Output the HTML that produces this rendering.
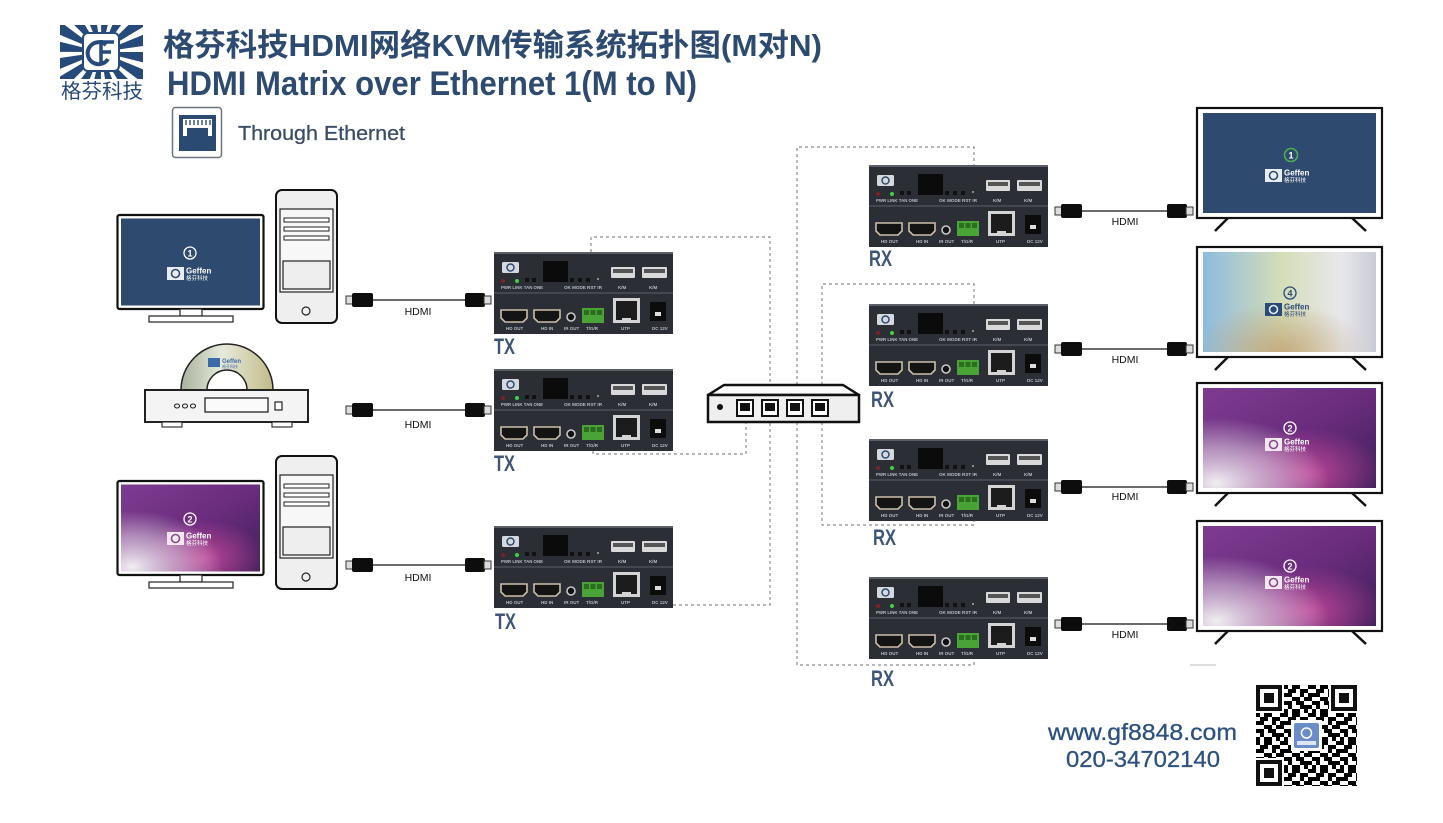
<!DOCTYPE html>
<html><head><meta charset="utf-8">
<style>
html,body{margin:0;padding:0;background:#fff;}
svg{display:block;}
text{font-family:"Liberation Sans","Noto Sans CJK SC",sans-serif;}
</style></head><body>
<svg width="1443" height="823" viewBox="0 0 1443 823" xmlns="http://www.w3.org/2000/svg">
<defs>
<linearGradient id="pur" x1="0" y1="0" x2="1" y2="1">
<stop offset="0" stop-color="#7e3c90"/><stop offset="0.5" stop-color="#6a2c7e"/><stop offset="1" stop-color="#3f1f58"/>
</linearGradient>
<radialGradient id="pw" cx="0.08" cy="0.95" r="0.65">
<stop offset="0" stop-color="#f2eef2" stop-opacity="1"/><stop offset="0.55" stop-color="#e6d6e6" stop-opacity="0.55"/><stop offset="1" stop-color="#e6d6e6" stop-opacity="0"/>
</radialGradient>
<radialGradient id="pm" cx="0.6" cy="0.85" r="0.45">
<stop offset="0" stop-color="#c8489c" stop-opacity="0.9"/><stop offset="1" stop-color="#c8489c" stop-opacity="0"/>
</radialGradient>
<linearGradient id="pas" x1="0" y1="0" x2="1" y2="0">
<stop offset="0" stop-color="#8dbbe0"/><stop offset="0.45" stop-color="#d4ddb8"/><stop offset="0.8" stop-color="#e8e8ec"/><stop offset="1" stop-color="#c9cbd4"/>
</linearGradient>
<radialGradient id="pt" cx="0.45" cy="1" r="0.5">
<stop offset="0" stop-color="#c0a070" stop-opacity="0.8"/><stop offset="1" stop-color="#c0a070" stop-opacity="0"/>
</radialGradient>
<linearGradient id="disc" x1="0" y1="0" x2="1" y2="0">
<stop offset="0" stop-color="#a7b39c"/><stop offset="0.45" stop-color="#e6eadb"/><stop offset="1" stop-color="#c2bb88"/>
</linearGradient>
<clipPath id="lc"><rect x="60" y="25" width="83" height="54"/></clipPath>
<pattern id="qr" patternUnits="userSpaceOnUse" x="1256" y="685" width="28" height="28">
<rect x="0" y="0" width="4" height="4"/><rect x="8" y="0" width="8" height="4"/><rect x="24" y="0" width="4" height="4"/>
<rect x="4" y="4" width="8" height="4"/><rect x="16" y="4" width="8" height="4"/>
<rect x="0" y="8" width="8" height="4"/><rect x="16" y="8" width="4" height="4"/><rect x="24" y="8" width="4" height="4"/>
<rect x="8" y="12" width="8" height="4"/><rect x="20" y="12" width="8" height="4"/>
<rect x="0" y="16" width="8" height="4"/><rect x="12" y="16" width="8" height="4"/>
<rect x="4" y="20" width="4" height="4"/><rect x="16" y="20" width="12" height="4"/>
<rect x="0" y="24" width="4" height="4"/><rect x="8" y="24" width="8" height="4"/><rect x="20" y="24" width="4" height="4"/>
</pattern>
</defs>

<rect width="1443" height="823" fill="#fff"/>

<!-- Logo emblem -->
<g clip-path="url(#lc)"><circle cx="101" cy="52" r="40" fill="none" stroke="#264a7a" stroke-width="80" stroke-dasharray="9.7 6"/></g>
<rect x="83" y="33" width="36" height="38" rx="5" fill="#fff" stroke="#264a7a" stroke-width="2"/>
<path d="M106 45 A11 11 0 1 0 108 59" stroke="#264a7a" stroke-width="4" fill="none"/>
<path d="M101 40 V64 M101 42 H114 M101 52 H111" stroke="#264a7a" stroke-width="3.5" fill="none"/>
<text x="61" y="98" font-size="20" fill="#264a7a" textLength="82" lengthAdjust="spacingAndGlyphs">格芬科技</text>

<!-- Titles -->
<text x="163" y="56" font-size="31" font-weight="bold" fill="#2d4a70" textLength="659" lengthAdjust="spacingAndGlyphs">格芬科技HDMI网络KVM传输系统拓扑图(M对N)</text>
<text x="167" y="95" font-size="34" font-weight="bold" fill="#2d4a70" textLength="530" lengthAdjust="spacingAndGlyphs">HDMI Matrix over Ethernet 1(M to N)</text>

<!-- Ethernet icon -->
<rect x="172.5" y="107.5" width="49" height="50" rx="3" fill="#fff" stroke="#6a7380" stroke-width="1.5"/>
<rect x="179" y="115" width="37" height="36" fill="#2b4a72"/>
<rect x="183" y="119" width="29" height="17" fill="#fff"/>
<path d="M186 120 V125 M190 120 V125 M194 120 V125 M198 120 V125 M202 120 V125 M206 120 V125 M210 120 V125" stroke="#2b4a72" stroke-width="1.4"/>
<rect x="187" y="128" width="21" height="12" fill="#2b4a72"/>
<text x="238" y="140" font-size="20" fill="#3a4d66" stroke="#3a4d66" stroke-width="0.3" textLength="167" lengthAdjust="spacingAndGlyphs">Through Ethernet</text>

<!-- Dashed network lines -->
<g fill="none" stroke="#8c8c8c" stroke-width="1.2" stroke-dasharray="3 3">
<path d="M591 252 V237 H770 V385"/>
<path d="M593 451 V454 H746 V422"/>
<path d="M673 605 H770 V422"/>
<path d="M797 385 V147 H974 V165"/>
<path d="M822 385 V284 H974 V304"/>
<path d="M822 422 V525 H974 V520"/>
<path d="M797 422 V665 H974 V658"/>
</g>

<!-- Left monitor 1 -->
<rect x="117.5" y="215" width="146" height="94" rx="2" fill="#fff" stroke="#111" stroke-width="2.2"/>
<rect x="121" y="218.5" width="139" height="87" fill="#2e4a6e"/>
<rect x="180" y="309" width="22" height="7" fill="#fff" stroke="#222" stroke-width="1.2"/>
<rect x="149" y="316" width="84" height="6" fill="#fff" stroke="#222" stroke-width="1.2"/>
<circle cx="190" cy="253" r="6" fill="none" stroke="#fff" stroke-width="1.3"/>
<text x="190" y="256.5" font-size="9" font-weight="bold" fill="#fff" text-anchor="middle">1</text>
<rect x="167" y="267" width="17" height="13" fill="#e8ecf2"/><circle cx="175.5" cy="273.5" r="4" fill="none" stroke="#2e4a6e" stroke-width="1.6"/>
<text x="186" y="273.5" font-size="8" font-weight="bold" fill="#fff">Geffen</text>
<text x="186" y="280" font-size="5.5" fill="#fff">格芬科技</text>

<!-- PC 1 -->
<rect x="276" y="190" width="61" height="133" rx="6" fill="#efefef" stroke="#111" stroke-width="2"/>
<rect x="280" y="209" width="53" height="83" fill="#f7f7f7" stroke="#222" stroke-width="1.2"/>
<rect x="284" y="218" width="45" height="4" fill="#fff" stroke="#222" stroke-width="1"/>
<rect x="284" y="227" width="45" height="4" fill="#fff" stroke="#222" stroke-width="1"/>
<rect x="284" y="236" width="45" height="4" fill="#fff" stroke="#222" stroke-width="1"/>
<rect x="283" y="261" width="47" height="28" fill="#eee" stroke="#222" stroke-width="1.2"/>
<circle cx="306" cy="311" r="4" fill="none" stroke="#222" stroke-width="1.2"/>

<!-- DVD player -->
<path d="M181 390 A46 46 0 0 1 273 390 Z" fill="url(#disc)" stroke="#222" stroke-width="1.5"/>
<path d="M207 390 A20 20 0 0 1 247 390 Z" fill="#fff" stroke="#222" stroke-width="1.5"/>
<rect x="208" y="358" width="12" height="9" fill="#3a6aa8"/>
<text x="222" y="363" font-size="6" font-weight="bold" fill="#3a6aa8">Geffen</text>
<text x="222" y="368" font-size="4" fill="#3a6aa8">格芬科技</text>
<rect x="145" y="390" width="163" height="32" fill="#f4f4f4" stroke="#222" stroke-width="2"/>
<rect x="205" y="398" width="63" height="14" fill="#fafafa" stroke="#222" stroke-width="1.3"/>
<rect x="275" y="402" width="7" height="8" fill="#fff" stroke="#222" stroke-width="1.2"/>
<ellipse cx="177" cy="406" rx="2.5" ry="2" fill="none" stroke="#222" stroke-width="1.1"/>
<ellipse cx="185" cy="406" rx="2.5" ry="2" fill="none" stroke="#222" stroke-width="1.1"/>
<ellipse cx="193" cy="406" rx="2.5" ry="2" fill="none" stroke="#222" stroke-width="1.1"/>
<rect x="162" y="422" width="20" height="5" fill="#fff" stroke="#222" stroke-width="1.1"/>
<rect x="272" y="422" width="20" height="5" fill="#fff" stroke="#222" stroke-width="1.1"/>

<!-- Left monitor 2 -->
<rect x="117.5" y="481" width="146" height="94" rx="2" fill="#fff" stroke="#111" stroke-width="2.2"/>
<rect x="121" y="484.5" width="139" height="87" fill="url(#pur)"/>
<rect x="121" y="484.5" width="139" height="87" fill="url(#pm)"/>
<rect x="121" y="484.5" width="139" height="87" fill="url(#pw)"/>
<rect x="180" y="575" width="22" height="7" fill="#fff" stroke="#222" stroke-width="1.2"/>
<rect x="149" y="582" width="84" height="6" fill="#fff" stroke="#222" stroke-width="1.2"/>
<circle cx="190" cy="519" r="6" fill="none" stroke="#fff" stroke-width="1.3"/>
<text x="190" y="522.5" font-size="9" font-weight="bold" fill="#fff" text-anchor="middle">2</text>
<rect x="167" y="532" width="17" height="13" fill="#f3e8f0"/><circle cx="175.5" cy="538.5" r="4" fill="none" stroke="#8a4a8a" stroke-width="1.6"/>
<text x="186" y="538.5" font-size="8" font-weight="bold" fill="#fff">Geffen</text>
<text x="186" y="545" font-size="5.5" fill="#fff">格芬科技</text>

<!-- PC 2 -->
<rect x="276" y="456" width="61" height="133" rx="6" fill="#efefef" stroke="#111" stroke-width="2"/>
<rect x="280" y="475" width="53" height="83" fill="#f7f7f7" stroke="#222" stroke-width="1.2"/>
<rect x="284" y="484" width="45" height="4" fill="#fff" stroke="#222" stroke-width="1"/>
<rect x="284" y="493" width="45" height="4" fill="#fff" stroke="#222" stroke-width="1"/>
<rect x="284" y="502" width="45" height="4" fill="#fff" stroke="#222" stroke-width="1"/>
<rect x="283" y="527" width="47" height="28" fill="#eee" stroke="#222" stroke-width="1.2"/>
<circle cx="306" cy="577" r="4" fill="none" stroke="#222" stroke-width="1.2"/>

<!-- Left HDMI cables -->
<g>
<rect x="346" y="296" width="7" height="8" fill="#ddd" stroke="#333" stroke-width="1"/>
<rect x="352" y="293" width="21" height="14" rx="2" fill="#0d0d0d"/>
<line x1="373" y1="300" x2="465" y2="300" stroke="#111" stroke-width="1.3"/>
<rect x="465" y="293" width="20" height="14" rx="2" fill="#0d0d0d"/>
<rect x="484" y="296" width="7" height="8" fill="#ddd" stroke="#333" stroke-width="1"/>
<text x="418" y="315" font-size="10.5" fill="#111" text-anchor="middle">HDMI</text>

<rect x="346" y="406" width="7" height="8" fill="#ddd" stroke="#333" stroke-width="1"/>
<rect x="352" y="403" width="21" height="14" rx="2" fill="#0d0d0d"/>
<line x1="373" y1="410" x2="465" y2="410" stroke="#111" stroke-width="1.3"/>
<rect x="465" y="403" width="20" height="14" rx="2" fill="#0d0d0d"/>
<rect x="484" y="406" width="7" height="8" fill="#ddd" stroke="#333" stroke-width="1"/>
<text x="418" y="428" font-size="10.5" fill="#111" text-anchor="middle">HDMI</text>

<rect x="346" y="561" width="7" height="8" fill="#ddd" stroke="#333" stroke-width="1"/>
<rect x="352" y="558" width="21" height="14" rx="2" fill="#0d0d0d"/>
<line x1="373" y1="565" x2="465" y2="565" stroke="#111" stroke-width="1.3"/>
<rect x="465" y="558" width="20" height="14" rx="2" fill="#0d0d0d"/>
<rect x="484" y="561" width="7" height="8" fill="#ddd" stroke="#333" stroke-width="1"/>
<text x="418" y="581" font-size="10.5" fill="#111" text-anchor="middle">HDMI</text>
</g>

<!-- Right HDMI cables -->
<g>
<rect x="1055" y="207" width="7" height="8" fill="#ddd" stroke="#333" stroke-width="1"/>
<rect x="1061" y="204" width="21" height="14" rx="2" fill="#0d0d0d"/>
<line x1="1082" y1="211" x2="1167" y2="211" stroke="#111" stroke-width="1.3"/>
<rect x="1167" y="204" width="20" height="14" rx="2" fill="#0d0d0d"/>
<rect x="1186" y="207" width="7" height="8" fill="#ddd" stroke="#333" stroke-width="1"/>
<text x="1125" y="225" font-size="10.5" fill="#111" text-anchor="middle">HDMI</text>

<rect x="1055" y="345" width="7" height="8" fill="#ddd" stroke="#333" stroke-width="1"/>
<rect x="1061" y="342" width="21" height="14" rx="2" fill="#0d0d0d"/>
<line x1="1082" y1="349" x2="1167" y2="349" stroke="#111" stroke-width="1.3"/>
<rect x="1167" y="342" width="20" height="14" rx="2" fill="#0d0d0d"/>
<rect x="1186" y="345" width="7" height="8" fill="#ddd" stroke="#333" stroke-width="1"/>
<text x="1125" y="363" font-size="10.5" fill="#111" text-anchor="middle">HDMI</text>

<rect x="1055" y="483" width="7" height="8" fill="#ddd" stroke="#333" stroke-width="1"/>
<rect x="1061" y="480" width="21" height="14" rx="2" fill="#0d0d0d"/>
<line x1="1082" y1="487" x2="1167" y2="487" stroke="#111" stroke-width="1.3"/>
<rect x="1167" y="480" width="20" height="14" rx="2" fill="#0d0d0d"/>
<rect x="1186" y="483" width="7" height="8" fill="#ddd" stroke="#333" stroke-width="1"/>
<text x="1125" y="500" font-size="10.5" fill="#111" text-anchor="middle">HDMI</text>

<rect x="1055" y="620" width="7" height="8" fill="#ddd" stroke="#333" stroke-width="1"/>
<rect x="1061" y="617" width="21" height="14" rx="2" fill="#0d0d0d"/>
<line x1="1082" y1="624" x2="1167" y2="624" stroke="#111" stroke-width="1.3"/>
<rect x="1167" y="617" width="20" height="14" rx="2" fill="#0d0d0d"/>
<rect x="1186" y="620" width="7" height="8" fill="#ddd" stroke="#333" stroke-width="1"/>
<text x="1125" y="638" font-size="10.5" fill="#111" text-anchor="middle">HDMI</text>
</g>

<!-- Devices -->
<g id="tx1" transform="translate(494,252)">
<rect width="179" height="82" fill="#2b2e35"/><rect width="179" height="2" fill="#5b5e66"/><rect y="40" width="179" height="2" fill="#44474f"/>
<rect x="8" y="10" width="17" height="11" rx="1.5" fill="#d5d9de"/><circle cx="16.5" cy="15.5" r="3.5" fill="none" stroke="#2b4a72" stroke-width="1.5"/>
<circle cx="9" cy="29" r="2" fill="#7a2424"/><circle cx="23" cy="29" r="2" fill="#43d043"/>
<rect x="31" y="26" width="4" height="4" fill="#111"/><rect x="38" y="26" width="4" height="4" fill="#111"/>
<rect x="49" y="9" width="25" height="21" fill="#0b0b0c"/>
<rect x="76" y="26" width="4" height="4" fill="#111"/><rect x="84" y="26" width="4" height="4" fill="#111"/><rect x="92" y="26" width="4" height="4" fill="#111"/><circle cx="104" cy="27" r="1" fill="#aaa"/>
<rect x="117" y="15" width="24" height="11" rx="1" fill="#d9d9d9"/><rect x="119" y="17" width="20" height="4" fill="#555"/>
<rect x="148" y="15" width="25" height="11" rx="1" fill="#d9d9d9"/><rect x="150" y="17" width="21" height="4" fill="#555"/>
<g font-size="4.5" fill="#b8bcc4" font-weight="bold"><text x="7" y="37" textLength="42" lengthAdjust="spacingAndGlyphs">PWR LINK TAN ONE</text><text x="70" y="37" textLength="38" lengthAdjust="spacingAndGlyphs">OK MODE RST IR</text><text x="124" y="37">K/M</text><text x="155" y="37">K/M</text></g>
<path d="M7 58 H33 V66 L29 70 H11 L7 66 Z" fill="#141414" stroke="#cbbfa8" stroke-width="1.6"/>
<path d="M40 58 H66 V66 L62 70 H44 L40 66 Z" fill="#141414" stroke="#cbbfa8" stroke-width="1.6"/>
<circle cx="77" cy="65" r="4" fill="#111" stroke="#c8c8c8" stroke-width="1.6"/>
<rect x="88" y="56" width="22" height="15" fill="#4aa336"/><rect x="90" y="58" width="5" height="5" fill="#2c6e20"/><rect x="96.5" y="58" width="5" height="5" fill="#2c6e20"/><rect x="103" y="58" width="5" height="5" fill="#2c6e20"/>
<rect x="119" y="46" width="27" height="25" fill="#d4d4d4"/><rect x="122" y="49" width="21" height="19" fill="#1c1c1c"/><rect x="128" y="66" width="9" height="3" fill="#d4d4d4"/>
<rect x="156" y="50" width="16" height="19" fill="#0c0c0c"/><rect x="161" y="60" width="6" height="4" fill="#ddd"/>
<g font-size="4.5" fill="#b8bcc4" font-weight="bold"><text x="12" y="78">HD OUT</text><text x="47" y="78">HD IN</text><text x="70" y="78">IR OUT</text><text x="92" y="78">T/G/R</text><text x="127" y="78">UTP</text><text x="158" y="78">DC 12V</text></g>
</g>

<g transform="translate(494,369)">
<rect width="179" height="82" fill="#2b2e35"/><rect width="179" height="2" fill="#5b5e66"/><rect y="40" width="179" height="2" fill="#44474f"/>
<rect x="8" y="10" width="17" height="11" rx="1.5" fill="#d5d9de"/><circle cx="16.5" cy="15.5" r="3.5" fill="none" stroke="#2b4a72" stroke-width="1.5"/>
<circle cx="9" cy="29" r="2" fill="#7a2424"/><circle cx="23" cy="29" r="2" fill="#43d043"/>
<rect x="31" y="26" width="4" height="4" fill="#111"/><rect x="38" y="26" width="4" height="4" fill="#111"/>
<rect x="49" y="9" width="25" height="21" fill="#0b0b0c"/>
<rect x="76" y="26" width="4" height="4" fill="#111"/><rect x="84" y="26" width="4" height="4" fill="#111"/><rect x="92" y="26" width="4" height="4" fill="#111"/><circle cx="104" cy="27" r="1" fill="#aaa"/>
<rect x="117" y="15" width="24" height="11" rx="1" fill="#d9d9d9"/><rect x="119" y="17" width="20" height="4" fill="#555"/>
<rect x="148" y="15" width="25" height="11" rx="1" fill="#d9d9d9"/><rect x="150" y="17" width="21" height="4" fill="#555"/>
<g font-size="4.5" fill="#b8bcc4" font-weight="bold"><text x="7" y="37" textLength="42" lengthAdjust="spacingAndGlyphs">PWR LINK TAN ONE</text><text x="70" y="37" textLength="38" lengthAdjust="spacingAndGlyphs">OK MODE RST IR</text><text x="124" y="37">K/M</text><text x="155" y="37">K/M</text></g>
<path d="M7 58 H33 V66 L29 70 H11 L7 66 Z" fill="#141414" stroke="#cbbfa8" stroke-width="1.6"/>
<path d="M40 58 H66 V66 L62 70 H44 L40 66 Z" fill="#141414" stroke="#cbbfa8" stroke-width="1.6"/>
<circle cx="77" cy="65" r="4" fill="#111" stroke="#c8c8c8" stroke-width="1.6"/>
<rect x="88" y="56" width="22" height="15" fill="#4aa336"/><rect x="90" y="58" width="5" height="5" fill="#2c6e20"/><rect x="96.5" y="58" width="5" height="5" fill="#2c6e20"/><rect x="103" y="58" width="5" height="5" fill="#2c6e20"/>
<rect x="119" y="46" width="27" height="25" fill="#d4d4d4"/><rect x="122" y="49" width="21" height="19" fill="#1c1c1c"/><rect x="128" y="66" width="9" height="3" fill="#d4d4d4"/>
<rect x="156" y="50" width="16" height="19" fill="#0c0c0c"/><rect x="161" y="60" width="6" height="4" fill="#ddd"/>
<g font-size="4.5" fill="#b8bcc4" font-weight="bold"><text x="12" y="78">HD OUT</text><text x="47" y="78">HD IN</text><text x="70" y="78">IR OUT</text><text x="92" y="78">T/G/R</text><text x="127" y="78">UTP</text><text x="158" y="78">DC 12V</text></g>
</g>

<g transform="translate(494,526)">
<rect width="179" height="82" fill="#2b2e35"/><rect width="179" height="2" fill="#5b5e66"/><rect y="40" width="179" height="2" fill="#44474f"/>
<rect x="8" y="10" width="17" height="11" rx="1.5" fill="#d5d9de"/><circle cx="16.5" cy="15.5" r="3.5" fill="none" stroke="#2b4a72" stroke-width="1.5"/>
<circle cx="9" cy="29" r="2" fill="#7a2424"/><circle cx="23" cy="29" r="2" fill="#43d043"/>
<rect x="31" y="26" width="4" height="4" fill="#111"/><rect x="38" y="26" width="4" height="4" fill="#111"/>
<rect x="49" y="9" width="25" height="21" fill="#0b0b0c"/>
<rect x="76" y="26" width="4" height="4" fill="#111"/><rect x="84" y="26" width="4" height="4" fill="#111"/><rect x="92" y="26" width="4" height="4" fill="#111"/><circle cx="104" cy="27" r="1" fill="#aaa"/>
<rect x="117" y="15" width="24" height="11" rx="1" fill="#d9d9d9"/><rect x="119" y="17" width="20" height="4" fill="#555"/>
<rect x="148" y="15" width="25" height="11" rx="1" fill="#d9d9d9"/><rect x="150" y="17" width="21" height="4" fill="#555"/>
<g font-size="4.5" fill="#b8bcc4" font-weight="bold"><text x="7" y="37" textLength="42" lengthAdjust="spacingAndGlyphs">PWR LINK TAN ONE</text><text x="70" y="37" textLength="38" lengthAdjust="spacingAndGlyphs">OK MODE RST IR</text><text x="124" y="37">K/M</text><text x="155" y="37">K/M</text></g>
<path d="M7 58 H33 V66 L29 70 H11 L7 66 Z" fill="#141414" stroke="#cbbfa8" stroke-width="1.6"/>
<path d="M40 58 H66 V66 L62 70 H44 L40 66 Z" fill="#141414" stroke="#cbbfa8" stroke-width="1.6"/>
<circle cx="77" cy="65" r="4" fill="#111" stroke="#c8c8c8" stroke-width="1.6"/>
<rect x="88" y="56" width="22" height="15" fill="#4aa336"/><rect x="90" y="58" width="5" height="5" fill="#2c6e20"/><rect x="96.5" y="58" width="5" height="5" fill="#2c6e20"/><rect x="103" y="58" width="5" height="5" fill="#2c6e20"/>
<rect x="119" y="46" width="27" height="25" fill="#d4d4d4"/><rect x="122" y="49" width="21" height="19" fill="#1c1c1c"/><rect x="128" y="66" width="9" height="3" fill="#d4d4d4"/>
<rect x="156" y="50" width="16" height="19" fill="#0c0c0c"/><rect x="161" y="60" width="6" height="4" fill="#ddd"/>
<g font-size="4.5" fill="#b8bcc4" font-weight="bold"><text x="12" y="78">HD OUT</text><text x="47" y="78">HD IN</text><text x="70" y="78">IR OUT</text><text x="92" y="78">T/G/R</text><text x="127" y="78">UTP</text><text x="158" y="78">DC 12V</text></g>
</g>

<g transform="translate(869,165)">
<rect width="179" height="82" fill="#2b2e35"/><rect width="179" height="2" fill="#5b5e66"/><rect y="40" width="179" height="2" fill="#44474f"/>
<rect x="8" y="10" width="17" height="11" rx="1.5" fill="#d5d9de"/><circle cx="16.5" cy="15.5" r="3.5" fill="none" stroke="#2b4a72" stroke-width="1.5"/>
<circle cx="9" cy="29" r="2" fill="#7a2424"/><circle cx="23" cy="29" r="2" fill="#43d043"/>
<rect x="31" y="26" width="4" height="4" fill="#111"/><rect x="38" y="26" width="4" height="4" fill="#111"/>
<rect x="49" y="9" width="25" height="21" fill="#0b0b0c"/>
<rect x="76" y="26" width="4" height="4" fill="#111"/><rect x="84" y="26" width="4" height="4" fill="#111"/><rect x="92" y="26" width="4" height="4" fill="#111"/><circle cx="104" cy="27" r="1" fill="#aaa"/>
<rect x="117" y="15" width="24" height="11" rx="1" fill="#d9d9d9"/><rect x="119" y="17" width="20" height="4" fill="#555"/>
<rect x="148" y="15" width="25" height="11" rx="1" fill="#d9d9d9"/><rect x="150" y="17" width="21" height="4" fill="#555"/>
<g font-size="4.5" fill="#b8bcc4" font-weight="bold"><text x="7" y="37" textLength="42" lengthAdjust="spacingAndGlyphs">PWR LINK TAN ONE</text><text x="70" y="37" textLength="38" lengthAdjust="spacingAndGlyphs">OK MODE RST IR</text><text x="124" y="37">K/M</text><text x="155" y="37">K/M</text></g>
<path d="M7 58 H33 V66 L29 70 H11 L7 66 Z" fill="#141414" stroke="#cbbfa8" stroke-width="1.6"/>
<path d="M40 58 H66 V66 L62 70 H44 L40 66 Z" fill="#141414" stroke="#cbbfa8" stroke-width="1.6"/>
<circle cx="77" cy="65" r="4" fill="#111" stroke="#c8c8c8" stroke-width="1.6"/>
<rect x="88" y="56" width="22" height="15" fill="#4aa336"/><rect x="90" y="58" width="5" height="5" fill="#2c6e20"/><rect x="96.5" y="58" width="5" height="5" fill="#2c6e20"/><rect x="103" y="58" width="5" height="5" fill="#2c6e20"/>
<rect x="119" y="46" width="27" height="25" fill="#d4d4d4"/><rect x="122" y="49" width="21" height="19" fill="#1c1c1c"/><rect x="128" y="66" width="9" height="3" fill="#d4d4d4"/>
<rect x="156" y="50" width="16" height="19" fill="#0c0c0c"/><rect x="161" y="60" width="6" height="4" fill="#ddd"/>
<g font-size="4.5" fill="#b8bcc4" font-weight="bold"><text x="12" y="78">HD OUT</text><text x="47" y="78">HD IN</text><text x="70" y="78">IR OUT</text><text x="92" y="78">T/G/R</text><text x="127" y="78">UTP</text><text x="158" y="78">DC 12V</text></g>
</g>

<g transform="translate(869,304)">
<rect width="179" height="82" fill="#2b2e35"/><rect width="179" height="2" fill="#5b5e66"/><rect y="40" width="179" height="2" fill="#44474f"/>
<rect x="8" y="10" width="17" height="11" rx="1.5" fill="#d5d9de"/><circle cx="16.5" cy="15.5" r="3.5" fill="none" stroke="#2b4a72" stroke-width="1.5"/>
<circle cx="9" cy="29" r="2" fill="#7a2424"/><circle cx="23" cy="29" r="2" fill="#43d043"/>
<rect x="31" y="26" width="4" height="4" fill="#111"/><rect x="38" y="26" width="4" height="4" fill="#111"/>
<rect x="49" y="9" width="25" height="21" fill="#0b0b0c"/>
<rect x="76" y="26" width="4" height="4" fill="#111"/><rect x="84" y="26" width="4" height="4" fill="#111"/><rect x="92" y="26" width="4" height="4" fill="#111"/><circle cx="104" cy="27" r="1" fill="#aaa"/>
<rect x="117" y="15" width="24" height="11" rx="1" fill="#d9d9d9"/><rect x="119" y="17" width="20" height="4" fill="#555"/>
<rect x="148" y="15" width="25" height="11" rx="1" fill="#d9d9d9"/><rect x="150" y="17" width="21" height="4" fill="#555"/>
<g font-size="4.5" fill="#b8bcc4" font-weight="bold"><text x="7" y="37" textLength="42" lengthAdjust="spacingAndGlyphs">PWR LINK TAN ONE</text><text x="70" y="37" textLength="38" lengthAdjust="spacingAndGlyphs">OK MODE RST IR</text><text x="124" y="37">K/M</text><text x="155" y="37">K/M</text></g>
<path d="M7 58 H33 V66 L29 70 H11 L7 66 Z" fill="#141414" stroke="#cbbfa8" stroke-width="1.6"/>
<path d="M40 58 H66 V66 L62 70 H44 L40 66 Z" fill="#141414" stroke="#cbbfa8" stroke-width="1.6"/>
<circle cx="77" cy="65" r="4" fill="#111" stroke="#c8c8c8" stroke-width="1.6"/>
<rect x="88" y="56" width="22" height="15" fill="#4aa336"/><rect x="90" y="58" width="5" height="5" fill="#2c6e20"/><rect x="96.5" y="58" width="5" height="5" fill="#2c6e20"/><rect x="103" y="58" width="5" height="5" fill="#2c6e20"/>
<rect x="119" y="46" width="27" height="25" fill="#d4d4d4"/><rect x="122" y="49" width="21" height="19" fill="#1c1c1c"/><rect x="128" y="66" width="9" height="3" fill="#d4d4d4"/>
<rect x="156" y="50" width="16" height="19" fill="#0c0c0c"/><rect x="161" y="60" width="6" height="4" fill="#ddd"/>
<g font-size="4.5" fill="#b8bcc4" font-weight="bold"><text x="12" y="78">HD OUT</text><text x="47" y="78">HD IN</text><text x="70" y="78">IR OUT</text><text x="92" y="78">T/G/R</text><text x="127" y="78">UTP</text><text x="158" y="78">DC 12V</text></g>
</g>

<g transform="translate(869,439)">
<rect width="179" height="82" fill="#2b2e35"/><rect width="179" height="2" fill="#5b5e66"/><rect y="40" width="179" height="2" fill="#44474f"/>
<rect x="8" y="10" width="17" height="11" rx="1.5" fill="#d5d9de"/><circle cx="16.5" cy="15.5" r="3.5" fill="none" stroke="#2b4a72" stroke-width="1.5"/>
<circle cx="9" cy="29" r="2" fill="#7a2424"/><circle cx="23" cy="29" r="2" fill="#43d043"/>
<rect x="31" y="26" width="4" height="4" fill="#111"/><rect x="38" y="26" width="4" height="4" fill="#111"/>
<rect x="49" y="9" width="25" height="21" fill="#0b0b0c"/>
<rect x="76" y="26" width="4" height="4" fill="#111"/><rect x="84" y="26" width="4" height="4" fill="#111"/><rect x="92" y="26" width="4" height="4" fill="#111"/><circle cx="104" cy="27" r="1" fill="#aaa"/>
<rect x="117" y="15" width="24" height="11" rx="1" fill="#d9d9d9"/><rect x="119" y="17" width="20" height="4" fill="#555"/>
<rect x="148" y="15" width="25" height="11" rx="1" fill="#d9d9d9"/><rect x="150" y="17" width="21" height="4" fill="#555"/>
<g font-size="4.5" fill="#b8bcc4" font-weight="bold"><text x="7" y="37" textLength="42" lengthAdjust="spacingAndGlyphs">PWR LINK TAN ONE</text><text x="70" y="37" textLength="38" lengthAdjust="spacingAndGlyphs">OK MODE RST IR</text><text x="124" y="37">K/M</text><text x="155" y="37">K/M</text></g>
<path d="M7 58 H33 V66 L29 70 H11 L7 66 Z" fill="#141414" stroke="#cbbfa8" stroke-width="1.6"/>
<path d="M40 58 H66 V66 L62 70 H44 L40 66 Z" fill="#141414" stroke="#cbbfa8" stroke-width="1.6"/>
<circle cx="77" cy="65" r="4" fill="#111" stroke="#c8c8c8" stroke-width="1.6"/>
<rect x="88" y="56" width="22" height="15" fill="#4aa336"/><rect x="90" y="58" width="5" height="5" fill="#2c6e20"/><rect x="96.5" y="58" width="5" height="5" fill="#2c6e20"/><rect x="103" y="58" width="5" height="5" fill="#2c6e20"/>
<rect x="119" y="46" width="27" height="25" fill="#d4d4d4"/><rect x="122" y="49" width="21" height="19" fill="#1c1c1c"/><rect x="128" y="66" width="9" height="3" fill="#d4d4d4"/>
<rect x="156" y="50" width="16" height="19" fill="#0c0c0c"/><rect x="161" y="60" width="6" height="4" fill="#ddd"/>
<g font-size="4.5" fill="#b8bcc4" font-weight="bold"><text x="12" y="78">HD OUT</text><text x="47" y="78">HD IN</text><text x="70" y="78">IR OUT</text><text x="92" y="78">T/G/R</text><text x="127" y="78">UTP</text><text x="158" y="78">DC 12V</text></g>
</g>

<g transform="translate(869,577)">
<rect width="179" height="82" fill="#2b2e35"/><rect width="179" height="2" fill="#5b5e66"/><rect y="40" width="179" height="2" fill="#44474f"/>
<rect x="8" y="10" width="17" height="11" rx="1.5" fill="#d5d9de"/><circle cx="16.5" cy="15.5" r="3.5" fill="none" stroke="#2b4a72" stroke-width="1.5"/>
<circle cx="9" cy="29" r="2" fill="#7a2424"/><circle cx="23" cy="29" r="2" fill="#43d043"/>
<rect x="31" y="26" width="4" height="4" fill="#111"/><rect x="38" y="26" width="4" height="4" fill="#111"/>
<rect x="49" y="9" width="25" height="21" fill="#0b0b0c"/>
<rect x="76" y="26" width="4" height="4" fill="#111"/><rect x="84" y="26" width="4" height="4" fill="#111"/><rect x="92" y="26" width="4" height="4" fill="#111"/><circle cx="104" cy="27" r="1" fill="#aaa"/>
<rect x="117" y="15" width="24" height="11" rx="1" fill="#d9d9d9"/><rect x="119" y="17" width="20" height="4" fill="#555"/>
<rect x="148" y="15" width="25" height="11" rx="1" fill="#d9d9d9"/><rect x="150" y="17" width="21" height="4" fill="#555"/>
<g font-size="4.5" fill="#b8bcc4" font-weight="bold"><text x="7" y="37" textLength="42" lengthAdjust="spacingAndGlyphs">PWR LINK TAN ONE</text><text x="70" y="37" textLength="38" lengthAdjust="spacingAndGlyphs">OK MODE RST IR</text><text x="124" y="37">K/M</text><text x="155" y="37">K/M</text></g>
<path d="M7 58 H33 V66 L29 70 H11 L7 66 Z" fill="#141414" stroke="#cbbfa8" stroke-width="1.6"/>
<path d="M40 58 H66 V66 L62 70 H44 L40 66 Z" fill="#141414" stroke="#cbbfa8" stroke-width="1.6"/>
<circle cx="77" cy="65" r="4" fill="#111" stroke="#c8c8c8" stroke-width="1.6"/>
<rect x="88" y="56" width="22" height="15" fill="#4aa336"/><rect x="90" y="58" width="5" height="5" fill="#2c6e20"/><rect x="96.5" y="58" width="5" height="5" fill="#2c6e20"/><rect x="103" y="58" width="5" height="5" fill="#2c6e20"/>
<rect x="119" y="46" width="27" height="25" fill="#d4d4d4"/><rect x="122" y="49" width="21" height="19" fill="#1c1c1c"/><rect x="128" y="66" width="9" height="3" fill="#d4d4d4"/>
<rect x="156" y="50" width="16" height="19" fill="#0c0c0c"/><rect x="161" y="60" width="6" height="4" fill="#ddd"/>
<g font-size="4.5" fill="#b8bcc4" font-weight="bold"><text x="12" y="78">HD OUT</text><text x="47" y="78">HD IN</text><text x="70" y="78">IR OUT</text><text x="92" y="78">T/G/R</text><text x="127" y="78">UTP</text><text x="158" y="78">DC 12V</text></g>
</g>

<!-- TX / RX labels -->
<g font-size="22" font-weight="bold" fill="#3d5577">
<text x="494" y="354" textLength="21" lengthAdjust="spacingAndGlyphs">TX</text>
<text x="494" y="471" textLength="21" lengthAdjust="spacingAndGlyphs">TX</text>
<text x="495" y="629" textLength="21" lengthAdjust="spacingAndGlyphs">TX</text>
<text x="869" y="266" textLength="23" lengthAdjust="spacingAndGlyphs">RX</text>
<text x="871" y="407" textLength="23" lengthAdjust="spacingAndGlyphs">RX</text>
<text x="873" y="545" textLength="23" lengthAdjust="spacingAndGlyphs">RX</text>
<text x="871" y="686" textLength="23" lengthAdjust="spacingAndGlyphs">RX</text>
</g>

<!-- Switch -->
<path d="M708 395 L724 385 H843 L859 395 Z" fill="#fafafa" stroke="#111" stroke-width="2.5" stroke-linejoin="round"/>
<rect x="708" y="395" width="151" height="27" fill="#efefef" stroke="#111" stroke-width="2.5"/>
<circle cx="720" cy="407" r="3" fill="#111"/>
<g fill="#fff" stroke="#111" stroke-width="2">
<rect x="737" y="400" width="16" height="16"/><rect x="762" y="400" width="16" height="16"/><rect x="787" y="400" width="16" height="16"/><rect x="812" y="400" width="16" height="16"/>
</g>
<g fill="#111">
<rect x="740" y="403" width="10" height="8"/><rect x="765" y="403" width="10" height="8"/><rect x="790" y="403" width="10" height="8"/><rect x="815" y="403" width="10" height="8"/>
</g>

<!-- TVs -->
<g>
<rect x="1197" y="108" width="185" height="110" fill="#fff" stroke="#111" stroke-width="2.2"/>
<rect x="1203" y="113" width="173" height="100" fill="#2f4a6f"/>
<path d="M1228 218 L1215 231 M1352 218 L1366 231" stroke="#111" stroke-width="2.5"/>
<circle cx="1291" cy="155" r="6.5" fill="none" stroke="#4bb04b" stroke-width="1.6"/>
<text x="1291" y="158.5" font-size="9" font-weight="bold" fill="#fff" text-anchor="middle">1</text>
<rect x="1265" y="169" width="17" height="13" fill="#e8ecf2"/><circle cx="1273.5" cy="175.5" r="4" fill="none" stroke="#2f4a6f" stroke-width="1.6"/>
<text x="1284" y="175.5" font-size="8" font-weight="bold" fill="#fff">Geffen</text>
<text x="1284" y="182" font-size="5.5" fill="#fff">格芬科技</text>
</g>
<g>
<rect x="1197" y="247" width="185" height="110" fill="#fff" stroke="#111" stroke-width="2.2"/>
<rect x="1203" y="252" width="173" height="100" fill="url(#pas)"/>
<rect x="1203" y="252" width="173" height="100" fill="url(#pt)"/>
<path d="M1228 357 L1215 370 M1352 357 L1366 370" stroke="#111" stroke-width="2.5"/>
<circle cx="1290" cy="293" r="6" fill="none" stroke="#2a4a78" stroke-width="1.3"/>
<text x="1290" y="296.5" font-size="9" font-weight="bold" fill="#2a4a78" text-anchor="middle">4</text>
<rect x="1265" y="303" width="17" height="13" fill="#2a4a78"/><circle cx="1273.5" cy="309.5" r="4" fill="none" stroke="#e8ecf2" stroke-width="1.6"/>
<text x="1284" y="309.5" font-size="8" font-weight="bold" fill="#2a4a78">Geffen</text>
<text x="1284" y="316" font-size="5.5" fill="#2a4a78">格芬科技</text>
</g>
<g>
<rect x="1197" y="383" width="185" height="110" fill="#fff" stroke="#111" stroke-width="2.2"/>
<rect x="1203" y="388" width="173" height="100" fill="url(#pur)"/>
<rect x="1203" y="388" width="173" height="100" fill="url(#pm)"/>
<rect x="1203" y="388" width="173" height="100" fill="url(#pw)"/>
<path d="M1228 493 L1215 506 M1352 493 L1366 506" stroke="#111" stroke-width="2.5"/>
<circle cx="1290" cy="428" r="6" fill="none" stroke="#fff" stroke-width="1.3"/>
<text x="1290" y="431.5" font-size="9" font-weight="bold" fill="#fff" text-anchor="middle">2</text>
<rect x="1265" y="438" width="17" height="13" fill="#f3e8f0"/><circle cx="1273.5" cy="444.5" r="4" fill="none" stroke="#8a4a8a" stroke-width="1.6"/>
<text x="1284" y="444.5" font-size="8" font-weight="bold" fill="#fff">Geffen</text>
<text x="1284" y="451" font-size="5.5" fill="#fff">格芬科技</text>
</g>
<g>
<rect x="1197" y="521" width="185" height="110" fill="#fff" stroke="#111" stroke-width="2.2"/>
<rect x="1203" y="526" width="173" height="100" fill="url(#pur)"/>
<rect x="1203" y="526" width="173" height="100" fill="url(#pm)"/>
<rect x="1203" y="526" width="173" height="100" fill="url(#pw)"/>
<path d="M1228 631 L1215 644 M1352 631 L1366 644" stroke="#111" stroke-width="2.5"/>
<circle cx="1290" cy="566" r="6" fill="none" stroke="#fff" stroke-width="1.3"/>
<text x="1290" y="569.5" font-size="9" font-weight="bold" fill="#fff" text-anchor="middle">2</text>
<rect x="1265" y="576" width="17" height="13" fill="#f3e8f0"/><circle cx="1273.5" cy="582.5" r="4" fill="none" stroke="#8a4a8a" stroke-width="1.6"/>
<text x="1284" y="582.5" font-size="8" font-weight="bold" fill="#fff">Geffen</text>
<text x="1284" y="589" font-size="5.5" fill="#fff">格芬科技</text>
</g>
<line x1="1190" y1="665" x2="1216" y2="665" stroke="#bbb" stroke-width="1"/>

<!-- Footer -->
<text x="1048" y="740" font-size="23" fill="#2c5180" stroke="#2c5180" stroke-width="0.3" textLength="189" lengthAdjust="spacingAndGlyphs">www.gf8848.com</text>
<text x="1066" y="767" font-size="23" fill="#2c5180" stroke="#2c5180" stroke-width="0.3" textLength="154" lengthAdjust="spacingAndGlyphs">020-34702140</text>

<!-- QR -->
<rect x="1256" y="685" width="101" height="101" fill="#fff"/>
<rect x="1256" y="685" width="101" height="101" fill="url(#qr)"/>
<g>
<rect x="1256" y="685" width="28" height="28" fill="#fff"/><rect x="1256" y="685" width="26" height="26" fill="#111"/><rect x="1260" y="689" width="18" height="18" fill="#fff"/><rect x="1264" y="693" width="10" height="10" fill="#111"/>
<rect x="1329" y="685" width="28" height="28" fill="#fff"/><rect x="1331" y="685" width="26" height="26" fill="#111"/><rect x="1335" y="689" width="18" height="18" fill="#fff"/><rect x="1339" y="693" width="10" height="10" fill="#111"/>
<rect x="1256" y="758" width="28" height="28" fill="#fff"/><rect x="1256" y="760" width="26" height="26" fill="#111"/><rect x="1260" y="764" width="18" height="18" fill="#fff"/><rect x="1264" y="768" width="10" height="10" fill="#111"/>
</g>
<rect x="1291" y="720" width="31" height="31" fill="#fff"/>
<rect x="1294" y="723" width="25" height="25" rx="2" fill="#6a8cc8"/>
<circle cx="1306.5" cy="733" r="5" fill="none" stroke="#fff" stroke-width="1.5"/>
<rect x="1297" y="741" width="19" height="4" fill="#dde6f5"/>
</svg>
</body></html>
